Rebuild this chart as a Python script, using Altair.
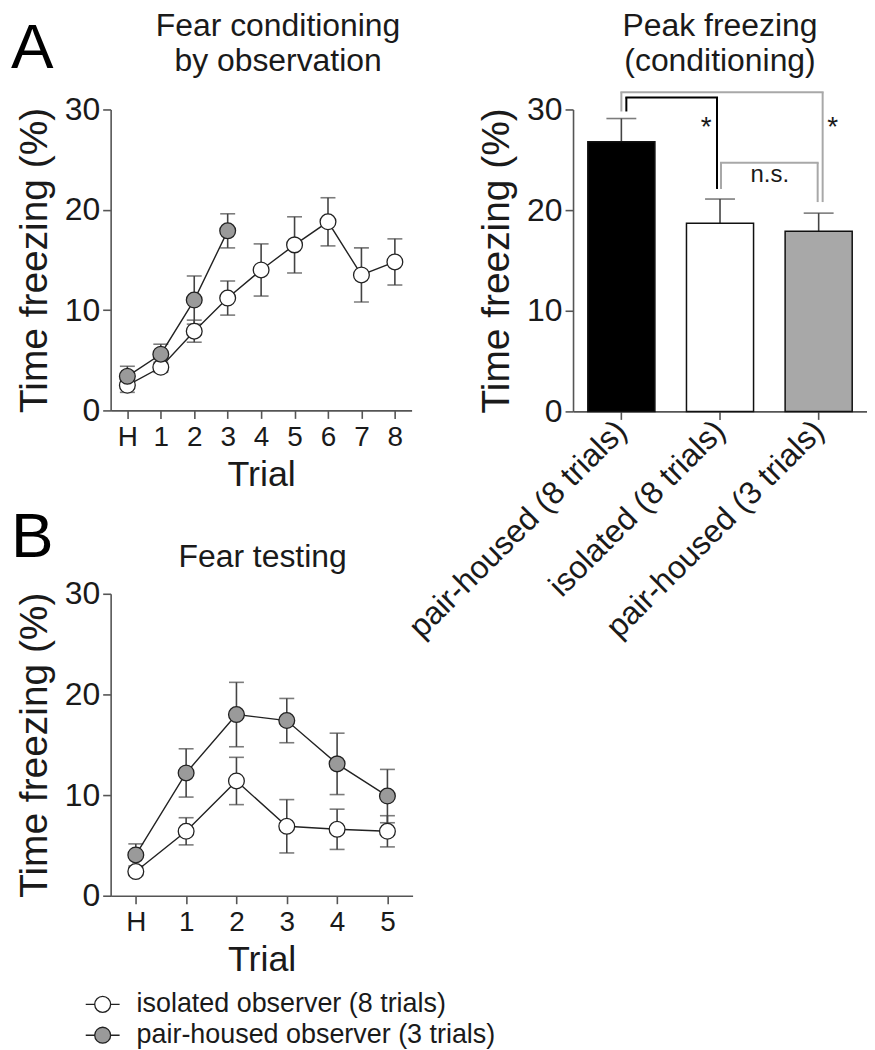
import altair as alt
import pandas as pd

FONT = "Liberation Sans"
TXT = "#1a1a1a"
AXC = "#555555"
ERRC = "#444444"

# ---------------- data ----------------
# Panel A: fear conditioning by observation
trials_a = ["H", "1", "2", "3", "4", "5", "6", "7", "8"]
iso_a_mean = [2.5, 4.3, 7.9, 11.2, 14.0, 16.5, 18.8, 13.5, 14.8]
iso_a_sem = [0.7, 0.5, 1.1, 1.7, 2.6, 2.8, 2.4, 2.7, 2.3]
pair_a_trials = ["H", "1", "2", "3"]
pair_a_mean = [3.4, 5.6, 11.0, 17.9]
pair_a_sem = [1.0, 1.0, 2.4, 1.7]

# Panel B: fear testing
trials_b = ["H", "1", "2", "3", "4", "5"]
iso_b_mean = [2.4, 6.4, 11.4, 6.9, 6.6, 6.4]
iso_b_sem = [0.4, 1.35, 2.35, 2.65, 2.0, 1.55]
pair_b_mean = [4.05, 12.2, 18.0, 17.4, 13.1, 9.9]
pair_b_sem = [1.1, 2.4, 3.2, 2.2, 3.05, 2.65]

groups = ["isolated observer (8 trials)", "pair-housed observer (3 trials)"]
group_fill = ["#ffffff", "#9a9a9a"]

# Peak freezing (conditioning)
bar_cats = ["pair-housed (8 trials)", "isolated (8 trials)", "pair-housed (3 trials)"]
bar_mean = [26.8, 18.7, 17.9]
bar_sem = [2.3, 2.4, 1.8]
bar_fill = ["#000000", "#ffffff", "#a8a8a8"]

# significance brackets: left bottom, top, right bottom (y values)
br_black = [29.8, 31.2, 22.1]
br_outer = [29.8, 31.7, 20.8]
br_ns = [22.1, 24.7, 20.8]
star_y = 28.2
ns_y = 23.5

# ---------------- helpers ----------------
AXIS = dict(domainColor=AXC, domainWidth=1.6, tickColor=AXC, tickWidth=1.6, tickSize=8,
            labelFont=FONT, labelFontSize=28, labelColor=TXT, titleFont=FONT,
            titleFontSize=36, titleFontWeight="normal", titleColor=TXT, grid=False)
YAXIS = {**AXIS, "labelFontSize": 32, "titleFontSize": 39}

LEG_PATH = ("M-1,0L-0.47,0M0.47,0L1,0M0.47,0A0.47,0.47,0,1,1,-0.47,0"
            "A0.47,0.47,0,1,1,0.47,0Z")


def make_df(rows):
    recs = []
    for g, tr, m, s in rows:
        for t, mm, ss in zip(tr, m, s):
            recs.append({"trial": t, "group": g, "mean": mm, "sem": ss})
    return pd.DataFrame(recs)


def label_text(txt, px, py, size, align="center"):
    return alt.Chart(pd.DataFrame({"t": [txt]})).mark_text(
        font=FONT, fontSize=size, color=TXT, align=align, baseline="alphabetic").encode(
        text="t:N", x=alt.value(px), y=alt.value(py))


def line_panel(trials, df, w, h, title_lines, title_dx, title_y, letter, letter_y, show_legend):
    x = alt.X("trial:O", sort=trials,
              scale=alt.Scale(type="point", domain=trials, padding=0.5),
              axis=alt.Axis(title="Trial", labelAngle=0, labelPadding=5, titlePadding=6, **AXIS))
    y_axis = alt.Axis(values=[0, 10, 20, 30], title="Time freezing (%)", labelPadding=3,
                      titlePadding=10, **YAXIS)
    base = alt.Chart(df).transform_calculate(
        lo="datum.mean - datum.sem", hi="datum.mean + datum.sem")
    err = base.mark_rule(color=ERRC, strokeWidth=1.6).encode(
        x=x, y=alt.Y("lo:Q", scale=alt.Scale(domain=[0, 30]), axis=y_axis), y2="hi:Q")
    cap_lo = base.mark_tick(color=ERRC, size=15, thickness=1.6).encode(x=x, y="lo:Q")
    cap_hi = base.mark_tick(color=ERRC, size=15, thickness=1.6).encode(x=x, y="hi:Q")
    line = base.mark_line(color="#222222", strokeWidth=1.4).encode(
        x=x, y="mean:Q", detail="group:N")
    if show_legend:
        leg = alt.Legend(title=None, orient="none", legendX=-26, legendY=394,
                         symbolType=LEG_PATH, symbolSize=1156, symbolStrokeColor="#222222",
                         symbolStrokeWidth=1.3, labelFont=FONT, labelFontSize=27,
                         labelColor=TXT, labelOffset=16, labelLimit=700, rowPadding=-30,
                         padding=0)
    else:
        leg = None
    pts = base.mark_circle(size=250, stroke="#222222", strokeWidth=1.3, opacity=1).encode(
        x=x, y="mean:Q",
        fill=alt.Fill("group:N", scale=alt.Scale(domain=groups, range=group_fill), legend=leg))
    texts = [alt.Chart(pd.DataFrame({"t": [letter]})).mark_text(
        font=FONT, fontSize=64, color="#000000", align="left", baseline="alphabetic").encode(
        text="t:N", x=alt.value(-100), y=alt.value(letter_y))]
    for i, ln in enumerate(title_lines):
        texts.append(label_text(ln, w / 2 + title_dx, title_y + 35 * i, 32))
    return alt.layer(err, cap_lo, cap_hi, line, pts, *texts).properties(width=w, height=h)


# ---------------- panel A line ----------------
df_a = make_df([(groups[0], trials_a, iso_a_mean, iso_a_sem),
                (groups[1], pair_a_trials, pair_a_mean, pair_a_sem)])
panel_a = line_panel(trials_a, df_a, 302, 302, ["Fear conditioning", "by observation"], 17, -74,
                     "A", -42, False)

# ---------------- panel B line ----------------
df_b = make_df([(groups[0], trials_b, iso_b_mean, iso_b_sem),
                (groups[1], trials_b, pair_b_mean, pair_b_sem)])
panel_b = line_panel(trials_b, df_b, 303, 303, ["Fear testing"], 1, -27, "B", -37, True)

# ---------------- bar panel ----------------
BW = 295
bdf = pd.DataFrame({"cond": bar_cats, "mean": bar_mean, "sem": bar_sem})
bx_scale = alt.Scale(domain=bar_cats, paddingInner=0.32, paddingOuter=0.15)
bx = alt.X("cond:N", sort=bar_cats, scale=bx_scale,
           axis=alt.Axis(title=None, labelAngle=315, labelAlign="right", labelBaseline="middle",
                         labelPadding=6, labelLimit=700,
                         **{**AXIS, "labelFontSize": 32}))
by_axis = alt.Axis(values=[0, 10, 20, 30], title="Time freezing (%)", labelPadding=3,
                   titlePadding=10, **YAXIS)
bbase = alt.Chart(bdf).transform_calculate(hi="datum.mean + datum.sem")
b_err = bbase.mark_rule(color=ERRC, strokeWidth=1.6).encode(
    x=bx, y=alt.Y("mean:Q", scale=alt.Scale(domain=[0, 30]), axis=by_axis), y2="hi:Q")
b_cap = bbase.mark_tick(color=ERRC, size=30, thickness=1.6).encode(x=bx, y="hi:Q")
b_bars = bbase.mark_bar(stroke="#111111", strokeWidth=1.5).encode(
    x=bx, y="mean:Q",
    fill=alt.Fill("cond:N", scale=alt.Scale(domain=bar_cats, range=bar_fill), legend=None))


def vseg(cat, y1, y2, color, off):
    return alt.Chart(pd.DataFrame({"cond": [cat], "y1": [y1], "y2": [y2]})).mark_rule(
        color=color, strokeWidth=2, xOffset=off).encode(x="cond:N", y="y1:Q", y2="y2:Q")


def hseg(c1, c2, yv, color, o1, o2):
    return alt.Chart(pd.DataFrame({"cond": [c1], "c2": [c2], "y1": [yv]})).mark_rule(
        color=color, strokeWidth=2, xOffset=o1, x2Offset=o2).encode(
        x=alt.X("cond:N", bandPosition=0.5), x2="c2:N", y="y1:Q")


GRAY = "#a8a8a8"
segs = [
    vseg(bar_cats[0], br_outer[0], br_outer[1], GRAY, 0),
    hseg(bar_cats[0], bar_cats[2], br_outer[1], GRAY, -1, 5),
    vseg(bar_cats[2], br_outer[2], br_outer[1], GRAY, 4),
    vseg(bar_cats[1], br_ns[0], br_ns[1], GRAY, 1),
    hseg(bar_cats[1], bar_cats[2], br_ns[1], GRAY, 0, 0),
    vseg(bar_cats[2], br_ns[2], br_ns[1], GRAY, -1),
    vseg(bar_cats[0], br_black[0], br_black[1], "#000000", 5),
    hseg(bar_cats[0], bar_cats[1], br_black[1], "#000000", 4, -2),
    vseg(bar_cats[1], br_black[2], br_black[1], "#000000", -3),
]


def note(cat, yv, label, size, dx):
    return alt.Chart(pd.DataFrame({"cond": [cat], "y1": [yv], "label": [label]})).mark_text(
        font=FONT, fontSize=size, color=TXT, baseline="middle", dx=dx).encode(
        x="cond:N", y="y1:Q", text="label:N")


notes = [note(bar_cats[1], star_y, "*", 28, -14),
         note(bar_cats[2], star_y, "*", 28, 14),
         note(bar_cats[1], ns_y, "n.s.", 24, 50)]
bar_titles = [label_text("Peak freezing", BW / 2, -74, 32),
              label_text("(conditioning)", BW / 2, -39, 32)]

panel_bar = alt.layer(b_err, b_cap, b_bars, *segs, *notes, *bar_titles).properties(
    width=BW, height=303)

left = alt.vconcat(panel_a, panel_b, spacing=14).resolve_scale(fill="independent")
chart = alt.hconcat(left, panel_bar, spacing=-94).resolve_scale(fill="independent").properties(
    padding={"left": 3, "top": 0, "right": 0, "bottom": 0}
).configure_view(stroke=None)

chart.save("out.html", embed_options={"renderer": "svg", "actions": False})
